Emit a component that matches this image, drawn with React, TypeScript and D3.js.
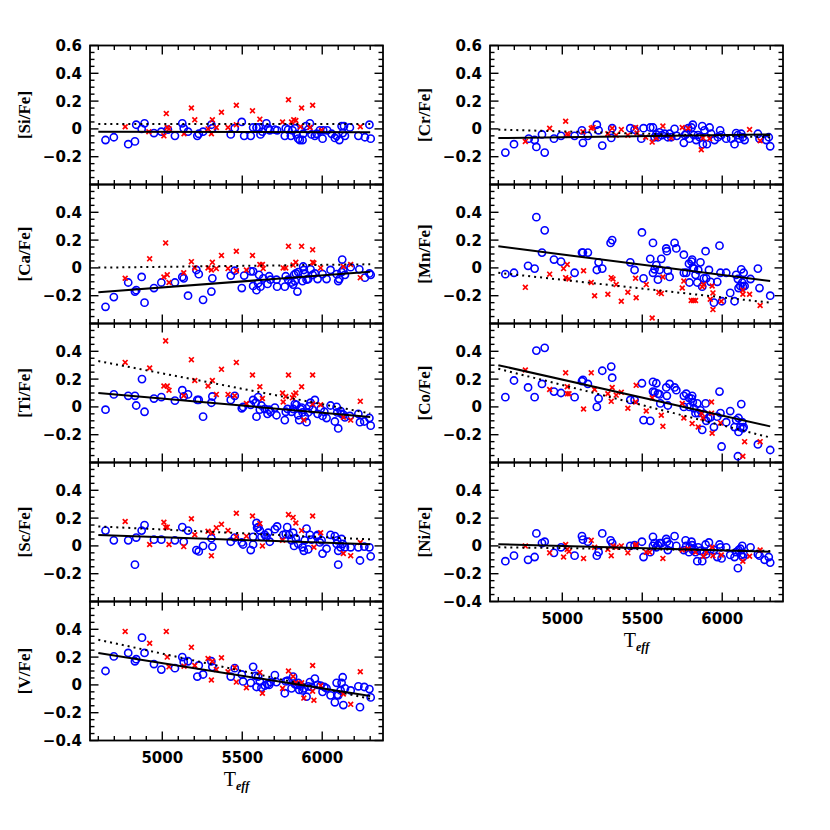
import React from 'react';
import * as d3 from 'd3';

// ---------- data (Teff, [X/Fe]) ----------
const SI_CIRCLES = [[4645,-0.08],[4697,-0.06],[4787,-0.11],[4829,-0.09],[4837,0.03],[4871,0],[4889,0.04],[4948,-0.03],[4994,-0.02],[5035,-0.005],[5079,-0.05],[5125,0.04],[5134,0.005],[5161,-0.02],[5219,-0.05],[5228,-0.035],[5255,-0.02],[5307,0.03],[5313,0.005],[5428,-0.04],[5453,0.005],[5497,0.05],[5512,-0.05],[5553,-0.05],[5568,0.01],[5589,0.01],[5605,0.01],[5614,-0.04],[5626,-0.02],[5651,0.04],[5662,0.005],[5672,-0.01],[5704,-0.005],[5718,-0.01],[5766,-0.05],[5772,0.005],[5787,-0.005],[5804,-0.05],[5814,-0.01],[5829,0.005],[5839,-0.04],[5850,-0.07],[5860,-0.08],[5877,-0.08],[5881,-0.035],[5898,0.02],[5912,-0.005],[5923,0.04],[5933,-0.04],[5954,-0.05],[5965,-0.035],[5985,-0.01],[6002,-0.07],[6006,-0.01],[6031,-0.01],[6059,-0.035],[6079,-0.065],[6090,-0.05],[6107,-0.08],[6121,0.02],[6128,-0.03],[6136,0.02],[6142,-0.05],[6173,0.01],[6226,-0.05],[6267,-0.06],[6295,0.03],[6303,-0.07]];
const SI_CROSSES = [[4768,0.015],[4916,-0.02],[5010,-0.05],[5025,0.11],[5031,0.01],[5042,0],[5136,-0.035],[5182,0.15],[5203,0.065],[5286,0],[5307,-0.035],[5313,0.065],[5338,0.01],[5370,0.12],[5411,0.01],[5463,0.17],[5463,0.03],[5564,0.13],[5610,0.07],[5752,0.05],[5789,0.21],[5808,0.05],[5822,0.065],[5835,0.06],[5864,0.015],[5871,0.15],[5923,0.01],[5940,0.17],[5996,-0.01],[6238,0.015]];
const SI_FIT = [[4600,-0.02],[6300,-0.024]];
const SI_FIT_DOT = [[4600,0.035],[6300,0.035]];

const CA_CIRCLES = [[4645,-0.28],[4697,-0.21],[4787,-0.105],[4829,-0.17],[4837,-0.16],[4871,-0.065],[4889,-0.25],[4948,-0.145],[4994,-0.105],[5079,-0.105],[5125,-0.065],[5134,-0.075],[5161,-0.2],[5213,-0.015],[5228,-0.045],[5255,-0.23],[5307,-0.17],[5313,-0.075],[5428,-0.055],[5453,-0.02],[5497,-0.145],[5512,-0.055],[5553,-0.025],[5568,-0.025],[5568,-0.13],[5589,-0.16],[5599,-0.11],[5605,-0.05],[5614,-0.135],[5631,-0.075],[5658,-0.115],[5668,-0.06],[5677,-0.085],[5714,-0.085],[5718,-0.135],[5766,-0.135],[5772,-0.06],[5787,-0.085],[5808,-0.105],[5818,-0.12],[5824,-0.05],[5829,-0.095],[5835,-0.04],[5845,-0.17],[5850,-0.03],[5877,-0.095],[5881,0.01],[5885,-0.015],[5891,-0.045],[5902,-0.085],[5912,-0.08],[5927,-0.01],[5940,-0.05],[5954,-0.04],[5971,-0.08],[6002,-0.045],[6027,-0.08],[6052,-0.015],[6090,-0.045],[6100,-0.095],[6107,-0.08],[6121,-0.03],[6125,0.06],[6132,-0.015],[6142,-0.05],[6178,0.005],[6232,-0.01],[6267,-0.07],[6295,-0.04],[6303,-0.05]];
const CA_CROSSES = [[4768,-0.075],[4921,0.065],[5010,-0.065],[5021,0.18],[5031,-0.05],[5042,-0.105],[5134,-0.035],[5182,0.045],[5203,0],[5286,0],[5307,-0.015],[5313,0.04],[5338,-0.005],[5370,0.09],[5411,-0.005],[5463,0.12],[5463,-0.02],[5526,-0.015],[5564,0.09],[5610,0.025],[5626,0.025],[5631,-0.005],[5756,0],[5772,0],[5789,0.155],[5818,0.02],[5835,0.04],[5871,0.155],[5940,0.13],[5940,0.04],[5948,0.035],[5990,0],[6132,0.01],[6178,0.025],[6238,-0.07]];
const CA_FIT = [[4600,-0.175],[6300,-0.028]];
const CA_FIT_DOT = [[4600,0.002],[6300,0.026]];

const TI_CIRCLES = [[4645,-0.02],[4697,0.09],[4787,0.08],[4829,0.08],[4837,0.01],[4873,0.2],[4889,-0.035],[4948,0.06],[4994,0.07],[5079,0.045],[5125,0.12],[5134,0.075],[5161,0.09],[5219,0.05],[5228,0.05],[5255,-0.07],[5307,0.03],[5313,0.075],[5428,0.05],[5453,0.08],[5497,-0.01],[5505,0],[5553,0.015],[5568,0.05],[5584,0.03],[5589,-0.07],[5599,0.07],[5610,-0.02],[5620,0.01],[5641,-0.015],[5658,-0.05],[5668,-0.02],[5677,-0.035],[5704,-0.005],[5714,-0.06],[5766,-0.095],[5772,-0.035],[5783,-0.015],[5808,-0.035],[5818,-0.015],[5829,0.02],[5839,0.015],[5850,-0.06],[5856,-0.095],[5864,-0.015],[5871,-0.005],[5877,-0.04],[5891,-0.07],[5902,-0.11],[5912,-0.04],[5919,0.005],[5927,0.03],[5940,-0.02],[5954,0.05],[5971,-0.05],[5990,-0.015],[6002,-0.065],[6013,-0.035],[6027,-0.08],[6052,0.01],[6079,-0.105],[6090,0],[6094,-0.04],[6100,-0.155],[6115,-0.03],[6121,-0.05],[6132,-0.055],[6142,-0.075],[6173,-0.065],[6226,-0.05],[6236,-0.11],[6263,-0.105],[6295,-0.08],[6303,-0.135]];
const TI_CROSSES = [[4768,0.32],[4921,0.28],[5010,0.15],[5021,0.475],[5031,0.15],[5042,0.12],[5134,0.08],[5182,0.34],[5203,0.19],[5286,0.15],[5313,0.19],[5338,0.09],[5370,0.27],[5411,0.09],[5463,0.32],[5453,0.08],[5526,0.025],[5564,0.23],[5610,0.145],[5626,0.06],[5752,0.1],[5756,0.035],[5772,0.075],[5789,0.23],[5814,0.065],[5822,0.085],[5835,0.1],[5871,0.145],[5885,-0.095],[5940,0.23],[5940,0.02],[5990,0.015],[6132,-0.075],[6178,-0.095],[6238,0.04]];
const TI_FIT = [[4600,0.1],[6300,-0.072]];
const TI_FIT_DOT = [[4600,0.33],[6300,-0.047]];

const SC_CIRCLES = [[4645,0.11],[4697,0.04],[4787,0.04],[4829,-0.135],[4837,0.06],[4871,0.11],[4889,0.15],[4948,0.045],[4994,0.045],[5079,0.04],[5125,0.135],[5134,0.03],[5161,0.11],[5213,-0.03],[5228,-0.04],[5255,0],[5307,0.055],[5313,-0.005],[5428,0.03],[5453,0.06],[5497,0.025],[5505,0.01],[5553,-0.03],[5568,0.01],[5568,0.065],[5589,0.165],[5593,0.13],[5601,0.135],[5610,0.11],[5620,0.065],[5641,0.08],[5651,0.065],[5662,0.095],[5672,0.03],[5704,0.12],[5718,0.14],[5756,0.08],[5772,0.085],[5781,0.135],[5793,0.08],[5808,0.04],[5818,0.095],[5824,0],[5835,0.055],[5850,0.015],[5877,-0.01],[5885,-0.035],[5891,0.04],[5902,0.125],[5912,-0.025],[5923,0.08],[5933,0.045],[5965,0.07],[5971,0.08],[5985,0.025],[5996,0.04],[6002,-0.055],[6027,-0.02],[6052,0.08],[6079,0.07],[6090,0.015],[6094,0.04],[6100,-0.135],[6100,-0.035],[6115,-0.01],[6121,0.05],[6128,0.015],[6142,-0.01],[6178,-0.01],[6226,-0.01],[6236,-0.105],[6263,-0.005],[6295,-0.01],[6303,-0.075]];
const SC_CROSSES = [[4768,0.175],[4921,0.01],[5010,0.17],[5021,0.135],[5031,0.135],[5042,0.01],[5134,-0.005],[5182,0.195],[5203,0.08],[5286,0.105],[5307,-0.07],[5313,0.095],[5338,0.13],[5370,0.155],[5411,0.11],[5463,0.235],[5463,0.065],[5526,0.07],[5564,0.215],[5610,0.16],[5626,0],[5752,0.04],[5789,0.225],[5818,0.205],[5835,0.165],[5871,0.11],[5940,0.215],[5948,-0.01],[5990,0.095],[6132,-0.055],[6178,-0.07],[6238,0.025]];
const SC_FIT = [[4600,0.078],[6300,0.012]];
const SC_FIT_DOT = [[4600,0.14],[6300,0.047]];

const V_CIRCLES = [[4645,0.1],[4697,0.205],[4787,0.23],[4829,0.17],[4837,0.185],[4873,0.34],[4889,0.23],[4948,0.15],[4994,0.11],[5079,0.12],[5125,0.2],[5134,0.165],[5161,0.17],[5219,0.06],[5228,0.14],[5255,0.075],[5307,0.17],[5313,0.13],[5428,0.06],[5453,0.12],[5497,0.075],[5505,0.025],[5553,0.015],[5568,0.13],[5584,0.065],[5589,-0.015],[5599,0.06],[5610,0.025],[5620,-0.02],[5641,-0.005],[5658,0.005],[5668,0],[5677,0.02],[5704,0.07],[5714,0.02],[5766,-0.06],[5772,0.025],[5783,0.03],[5808,-0.025],[5818,0.06],[5829,0.005],[5839,0],[5850,0.015],[5856,-0.035],[5864,-0.005],[5877,-0.04],[5885,-0.025],[5902,-0.085],[5912,-0.01],[5923,0.02],[5933,-0.015],[5954,0.045],[5971,0],[5990,-0.005],[6002,-0.05],[6013,-0.015],[6027,-0.025],[6052,-0.075],[6079,-0.125],[6090,0.015],[6094,-0.07],[6100,-0.075],[6115,-0.04],[6121,0.015],[6128,0.055],[6132,-0.145],[6142,-0.025],[6178,-0.04],[6226,-0.01],[6236,-0.16],[6263,-0.015],[6295,-0.03],[6303,-0.09]];
const V_CROSSES = [[4768,0.385],[4921,0.3],[5025,0.385],[5031,0.2],[5042,0.13],[5136,0.135],[5182,0.27],[5203,0.14],[5286,0.19],[5307,0.035],[5313,0.17],[5338,0.11],[5370,0.195],[5411,0.095],[5463,0.02],[5453,0.125],[5526,-0.02],[5610,0.09],[5626,-0.06],[5752,-0.025],[5789,0.1],[5818,0.06],[5835,0.015],[5871,0.015],[5885,-0.095],[5940,0.14],[5940,-0.045],[5948,-0.11],[5990,-0.005],[6132,-0.065],[6178,-0.14],[6238,0.095]];
const V_FIT = [[4600,0.23],[6300,-0.08]];
const V_FIT_DOT = [[4600,0.325],[6300,-0.1]];

const CR_CIRCLES = [[4644,-0.17],[4698,-0.11],[4790,-0.07],[4827,-0.08],[4838,-0.13],[4873,-0.04],[4890,-0.17],[4948,-0.07],[4992,-0.05],[5077,-0.05],[5123,-0.01],[5129,-0.1],[5160,-0.05],[5216,0.03],[5227,-0.01],[5250,-0.12],[5306,-0.065],[5312,0.005],[5425,0.005],[5452,-0.005],[5494,-0.07],[5508,0.005],[5550,0.01],[5567,0.01],[5577,-0.06],[5588,-0.04],[5598,-0.06],[5608,-0.025],[5623,-0.045],[5640,-0.035],[5660,-0.06],[5671,-0.035],[5681,-0.06],[5702,0],[5716,-0.05],[5760,-0.1],[5767,-0.045],[5775,-0.035],[5787,0.005],[5795,-0.07],[5808,0.01],[5816,0.03],[5823,-0.045],[5837,-0.08],[5848,-0.045],[5858,-0.06],[5875,0.02],[5879,-0.11],[5889,-0.01],[5904,-0.11],[5921,0.01],[5931,-0.035],[5952,-0.08],[5973,-0.06],[5987,-0.01],[5994,-0.045],[6025,-0.07],[6056,-0.07],[6077,-0.11],[6087,-0.03],[6098,-0.045],[6108,-0.07],[6119,-0.035],[6129,-0.06],[6140,-0.08],[6223,-0.035],[6233,-0.07],[6275,-0.08],[6291,-0.06],[6300,-0.125]];
const CR_CROSSES = [[4769,-0.09],[4921,0.005],[5021,0.055],[5031,-0.035],[5037,-0.045],[5129,-0.02],[5181,0.005],[5192,0.01],[5285,-0.035],[5312,0.005],[5337,-0.045],[5369,-0.005],[5410,-0.045],[5458,0.01],[5467,-0.03],[5521,-0.06],[5562,-0.095],[5588,-0.065],[5629,0.02],[5681,-0.065],[5750,0.01],[5787,0.005],[5869,-0.15],[5879,-0.065],[5921,-0.07],[6171,-0.005],[6237,-0.085]];
const CR_FIT = [[4600,-0.066],[6300,-0.04]];
const CR_FIT_DOT = [[4600,-0.005],[6300,-0.06]];

const MN_CIRCLES = [[4644,-0.045],[4698,-0.035],[4786,0.015],[4827,-0.005],[4838,0.365],[4873,0.11],[4890,0.27],[4948,0.06],[4992,0.045],[5077,-0.035],[5123,0.11],[5129,0.11],[5160,0.11],[5216,-0.015],[5227,0.04],[5250,-0.005],[5302,0.18],[5312,0.2],[5425,0.04],[5452,-0.015],[5498,0.255],[5508,-0.075],[5550,0.065],[5567,0.18],[5567,-0.035],[5577,-0.01],[5588,0.02],[5598,-0.085],[5608,-0.015],[5619,0.065],[5650,0.14],[5654,0.12],[5660,-0.02],[5671,-0.065],[5702,0.18],[5713,0.14],[5760,0.095],[5760,-0.035],[5775,-0.035],[5792,0.03],[5795,-0.105],[5808,0.045],[5812,0.06],[5816,0],[5823,-0.005],[5833,-0.05],[5844,-0.105],[5850,-0.015],[5864,0.04],[5875,-0.135],[5885,-0.075],[5896,0.12],[5900,-0.075],[5917,-0.015],[5927,-0.1],[5948,-0.25],[5969,-0.1],[5983,0.16],[5989,-0.035],[5998,-0.24],[6025,-0.035],[6050,-0.18],[6077,-0.24],[6087,-0.05],[6098,-0.08],[6102,-0.145],[6113,-0.13],[6119,-0.01],[6125,-0.105],[6129,-0.135],[6134,-0.035],[6140,-0.13],[6177,-0.08],[6223,-0.005],[6233,-0.145],[6300,-0.2]];
const MN_CROSSES = [[4769,-0.14],[4921,-0.045],[5008,-0.005],[5021,-0.07],[5031,0.025],[5042,-0.08],[5133,-0.02],[5181,-0.105],[5202,-0.2],[5285,-0.19],[5306,-0.07],[5317,-0.08],[5337,-0.12],[5369,-0.24],[5410,-0.175],[5458,-0.075],[5462,-0.215],[5525,-0.12],[5562,-0.36],[5604,-0.175],[5619,-0.185],[5629,-0.065],[5750,-0.145],[5760,-0.095],[5806,-0.235],[5820,-0.235],[5833,-0.235],[5875,-0.135],[5883,-0.12],[5925,-0.225],[5937,-0.13],[5942,-0.18],[5942,-0.3],[5994,-0.24],[6129,-0.16],[6129,-0.19],[6171,-0.19],[6237,-0.27]];
const MN_FIT = [[4600,0.155],[6300,-0.094]];
const MN_FIT_DOT = [[4600,-0.035],[6300,-0.25]];

const CO_CIRCLES = [[4644,0.07],[4698,0.19],[4786,0.14],[4827,0.07],[4838,0.405],[4873,0.165],[4890,0.425],[4948,0.11],[4992,0.1],[5077,0.07],[5123,0.185],[5129,0.195],[5160,0.165],[5216,0],[5227,0.06],[5250,0.26],[5306,0.29],[5312,0.21],[5425,0.05],[5452,0.05],[5498,0.17],[5508,-0.095],[5550,-0.1],[5567,0.18],[5567,0.11],[5577,0.105],[5588,0.17],[5598,0.095],[5608,0.09],[5613,0.025],[5650,0.14],[5654,0.08],[5660,0.01],[5671,0.165],[5702,0.14],[5713,0.12],[5760,0.08],[5760,0],[5775,0.095],[5792,0.065],[5795,0],[5808,0.06],[5812,0.08],[5816,0.035],[5823,-0.01],[5833,-0.045],[5844,0.025],[5850,-0.045],[5864,-0.025],[5875,-0.165],[5885,-0.05],[5896,0.025],[5900,-0.1],[5913,-0.08],[5927,-0.075],[5948,-0.145],[5969,-0.07],[5983,0.11],[5989,-0.045],[5996,-0.285],[6025,-0.11],[6050,-0.03],[6077,-0.145],[6087,-0.095],[6098,-0.355],[6102,-0.08],[6102,-0.18],[6113,-0.145],[6119,0.02],[6125,-0.11],[6129,-0.155],[6134,-0.145],[6223,-0.27],[6300,-0.31]];
const CO_CROSSES = [[4769,0.265],[4921,0.125],[5021,0.245],[5031,0.145],[5031,0.095],[5042,0.095],[5133,-0.015],[5181,0.245],[5202,0.125],[5285,0.095],[5306,0.04],[5312,0.14],[5337,0.085],[5369,0.105],[5410,-0.01],[5458,0.035],[5462,0.155],[5525,-0.03],[5562,0.065],[5619,-0.06],[5629,-0.14],[5750,0.025],[5760,-0.08],[5812,-0.12],[5850,-0.145],[5871,-0.045],[5879,-0.08],[5933,0.035],[5937,-0.19],[5933,-0.045],[5989,-0.115],[6129,-0.355],[6140,-0.25],[6237,-0.25]];
const CO_FIT = [[4600,0.3],[6300,-0.14]];
const CO_FIT_DOT = [[4600,0.274],[6300,-0.22]];

const NI_CIRCLES = [[4644,-0.11],[4698,-0.07],[4786,-0.1],[4827,-0.08],[4838,0.09],[4873,0.02],[4890,0.03],[4948,-0.05],[4992,-0.01],[5077,-0.07],[5123,0.07],[5129,0.045],[5160,0.03],[5216,-0.07],[5227,-0.045],[5250,0.09],[5302,0.04],[5312,0.02],[5425,0],[5452,0.005],[5498,0.03],[5508,-0.08],[5550,-0.045],[5567,0.065],[5567,0],[5577,0.02],[5588,-0.01],[5598,0.005],[5608,0.02],[5619,0.02],[5650,0.05],[5654,0.03],[5660,-0.03],[5671,0.01],[5702,0.07],[5713,0],[5760,-0.03],[5771,0.04],[5775,0],[5792,-0.045],[5795,-0.01],[5808,0.03],[5812,0.005],[5816,-0.03],[5823,-0.02],[5833,-0.045],[5844,-0.11],[5850,-0.01],[5864,-0.035],[5875,-0.11],[5885,-0.045],[5896,0.01],[5900,-0.06],[5917,0.025],[5927,-0.025],[5948,-0.03],[5969,-0.08],[5983,0.01],[5989,-0.01],[5996,-0.09],[6025,-0.01],[6050,-0.065],[6077,-0.08],[6087,-0.045],[6098,-0.16],[6102,-0.03],[6113,-0.02],[6119,-0.065],[6125,0],[6129,-0.08],[6134,-0.06],[6177,-0.01],[6223,-0.06],[6233,-0.07],[6265,-0.1],[6291,-0.08],[6300,-0.12]];
const NI_CROSSES = [[4769,0],[4921,-0.05],[5008,-0.08],[5021,0.01],[5031,-0.025],[5042,-0.04],[5133,-0.09],[5181,0.04],[5202,-0.01],[5285,-0.025],[5306,-0.07],[5317,0],[5337,-0.01],[5369,0],[5410,-0.05],[5458,0],[5462,0.01],[5525,-0.045],[5546,-0.045],[5629,-0.09],[5750,-0.03],[5787,-0.02],[5833,-0.045],[5883,-0.075],[5900,-0.045],[5937,-0.01],[5942,-0.07],[5994,-0.065],[6129,-0.11],[6171,-0.075],[6237,-0.03]];
const NI_FIT = [[4600,0.012],[6300,-0.042]];
const NI_FIT_DOT = [[4600,-0.01],[6300,-0.036]];

const LEFT_LABELS = ['[Si/Fe]', '[Ca/Fe]', '[Ti/Fe]', '[Sc/Fe]', '[V/Fe]'];
const RIGHT_LABELS = ['[Cr/Fe]', '[Mn/Fe]', '[Co/Fe]', '[Ni/Fe]'];
const X_TICK_LABELS = [5000, 5500, 6000];
const Y_TICK_LABELS = [0.6, 0.4, 0.2, 0, -0.2, -0.4];

const LEFT_PANELS = [
  { label: LEFT_LABELS[0], circles: SI_CIRCLES, crosses: SI_CROSSES, fit: SI_FIT, fitDot: SI_FIT_DOT },
  { label: LEFT_LABELS[1], circles: CA_CIRCLES, crosses: CA_CROSSES, fit: CA_FIT, fitDot: CA_FIT_DOT },
  { label: LEFT_LABELS[2], circles: TI_CIRCLES, crosses: TI_CROSSES, fit: TI_FIT, fitDot: TI_FIT_DOT },
  { label: LEFT_LABELS[3], circles: SC_CIRCLES, crosses: SC_CROSSES, fit: SC_FIT, fitDot: SC_FIT_DOT },
  { label: LEFT_LABELS[4], circles: V_CIRCLES, crosses: V_CROSSES, fit: V_FIT, fitDot: V_FIT_DOT },
];
const RIGHT_PANELS = [
  { label: RIGHT_LABELS[0], circles: CR_CIRCLES, crosses: CR_CROSSES, fit: CR_FIT, fitDot: CR_FIT_DOT },
  { label: RIGHT_LABELS[1], circles: MN_CIRCLES, crosses: MN_CROSSES, fit: MN_FIT, fitDot: MN_FIT_DOT },
  { label: RIGHT_LABELS[2], circles: CO_CIRCLES, crosses: CO_CROSSES, fit: CO_FIT, fitDot: CO_FIT_DOT },
  { label: RIGHT_LABELS[3], circles: NI_CIRCLES, crosses: NI_CROSSES, fit: NI_FIT, fitDot: NI_FIT_DOT },
];

// ---------- layout ----------
const W = 830, H = 830;
const TOP = 45.5;
const PANEL_H = 139;
const COLS = [{ x0: 90, x1: 383 }, { x0: 490, x1: 783 }];
const T_DOMAIN = [4548, 6380];
const Y_DOMAIN = [-0.4, 0.6];
const TICK_FONT = "'DejaVu Sans', sans-serif";
const LABEL_FONT = "'Liberation Serif', serif";

const fmt = (v: number) => (Math.abs(v) < 1e-9 ? '0' : (v < 0 ? '\u2212' : '') + Math.abs(v).toFixed(1));

function Panel({ panel, col, row, nRows }: any) {
  const { x0, x1 } = COLS[col];
  const yTop = TOP + row * PANEL_H;
  const yBot = yTop + PANEL_H;
  const x = d3.scaleLinear().domain(T_DOMAIN).range([x0, x1]);
  const y = d3.scaleLinear().domain(Y_DOMAIN).range([yBot, yTop]);
  const isTop = row === 0;
  const isBottom = row === nRows - 1;

  const xMinor = d3.range(4600, 6301, 100);
  const yMinor = d3.range(-8, 13).map((i) => i * 0.05);
  const line = d3.line<number[]>().x((d) => x(d[0])).y((d) => y(d[1]));

  const yLabs = Y_TICK_LABELS.filter((v) => (v < 0.59 || isTop) && (v > -0.39 || isBottom));

  return (
    <g>
      {xMinor.map((t) => {
        const major = t % 500 === 0;
        const L = major ? 9 : 4.5;
        const px = x(t);
        return (
          <g key={'xt' + t} stroke="#000" strokeWidth={1.4}>
            <line x1={px} x2={px} y1={yBot} y2={yBot - L} />
            <line x1={px} x2={px} y1={yTop} y2={yTop + L} />
          </g>
        );
      })}
      {yMinor.map((v, i) => {
        const major = (i % 4) === 0;
        const L = major ? 8.5 : 4.5;
        const py = y(v);
        return (
          <g key={'yt' + i} stroke="#000" strokeWidth={1.4}>
            <line x1={x0} x2={x0 + L} y1={py} y2={py} />
            <line x1={x1} x2={x1 - L} y1={py} y2={py} />
          </g>
        );
      })}
      <rect x={x0} y={yTop} width={x1 - x0} height={PANEL_H} fill="none" stroke="#000" strokeWidth={1.8} />

      {yLabs.map((v) => (
        <text key={'yl' + v} x={x0 - 8} y={y(v)} dy="0.36em" textAnchor="end"
          fontFamily={TICK_FONT} fontWeight="bold" fontSize={15} fill="#000">{fmt(v)}</text>
      ))}
      <text transform={`translate(${x0 - 66},${(yTop + yBot) / 2}) rotate(-90)`} textAnchor="middle"
        dy="0.35em" fontFamily={LABEL_FONT} fontWeight="bold" fontSize={17} fill="#000">{panel.label}</text>

      {isBottom && X_TICK_LABELS.map((t) => (
        <text key={'xl' + t} x={x(t)} y={yBot + 22} textAnchor="middle"
          fontFamily={TICK_FONT} fontWeight="bold" fontSize={15} fill="#000">{t}</text>
      ))}
      {isBottom && (
        <text x={(x0 + x1) / 2} y={yBot + 45} textAnchor="middle" fill="#000">
          <tspan fontFamily="'Liberation Serif', serif" fontSize={20}>T</tspan>
          <tspan fontFamily="'Liberation Serif', serif" fontWeight="bold" fontStyle="italic" fontSize={12} dy={4}>eff</tspan>
        </text>
      )}

      {panel.circles.map((d: number[], i: number) => (
        <circle key={'c' + i} cx={x(d[0])} cy={y(d[1])} r={3.6} fill="none" stroke="#0000ff" strokeWidth={1.6} />
      ))}
      {panel.crosses.map((d: number[], i: number) => {
        const cx = x(d[0]), cy = y(d[1]), s = 2.4;
        return (
          <path key={'x' + i} d={`M${cx - s},${cy - s}L${cx + s},${cy + s}M${cx - s},${cy + s}L${cx + s},${cy - s}`}
            stroke="#ff0000" strokeWidth={1.7} fill="none" />
        );
      })}
      <path d={line(panel.fit) || ''} stroke="#000" strokeWidth={2} fill="none" />
      <path d={line(panel.fitDot) || ''} stroke="#000" strokeWidth={2} strokeDasharray="2,4" fill="none" />
    </g>
  );
}

export default function App() {
  return (
    <svg width={W} height={H} viewBox={`0 0 ${W} ${H}`}
      style={{ position: 'absolute', left: 0, top: 0, background: '#fff' }}>
      <rect x={0} y={0} width={W} height={H} fill="#fff" />
      {LEFT_PANELS.map((p, i) => <Panel key={'L' + i} panel={p} col={0} row={i} nRows={LEFT_PANELS.length} />)}
      {RIGHT_PANELS.map((p, i) => <Panel key={'R' + i} panel={p} col={1} row={i} nRows={RIGHT_PANELS.length} />)}
    </svg>
  );
}
